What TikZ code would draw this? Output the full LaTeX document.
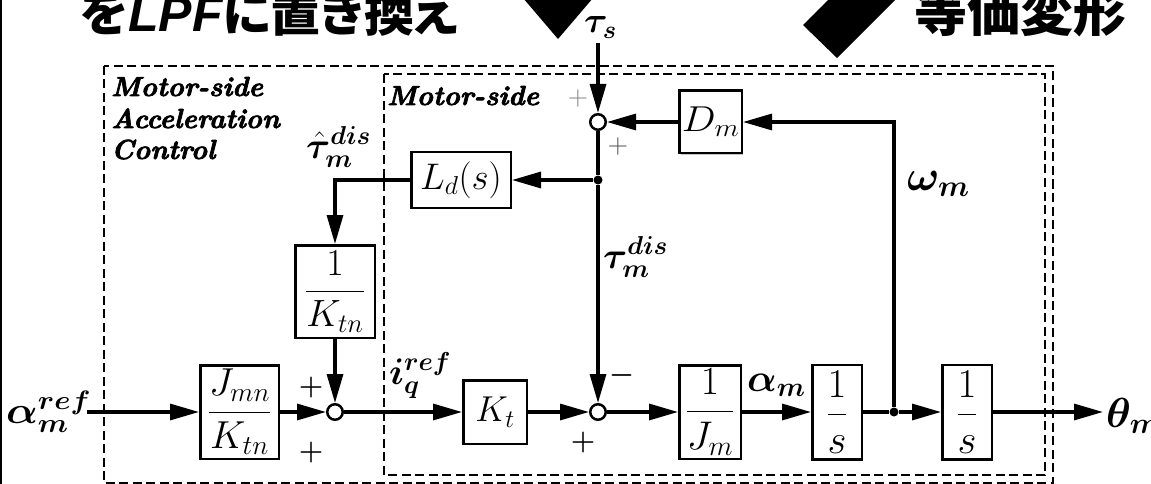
\RequirePackage{fix-cm}
\documentclass[tikz,border=0pt]{standalone}
\usepackage{amsmath,bm}
\usepackage{graphicx}
\usepackage{fontspec}
\newfontfamily\jpfont[RawFeature=+palt]{Noto Sans CJK JP}
\newfontfamily\lsans{Liberation Sans}
\newfontfamily\grpfont[BoldItalicFeatures={FakeBold=2.6}]{Latin Modern Roman}
\usetikzlibrary{arrows.meta,shadows}
\newcommand\setfs[1]{\fontsize{#1}{#1}\selectfont}
\newcommand\hsc[2]{\scalebox{#1}[1]{#2}}
\tikzset{
  blk/.style={draw, line width=2.5pt, inner sep=0pt, fill=white,
    drop shadow={shadow xshift=1.3pt, shadow yshift=-1.3pt, opacity=0.45}},
  sumc/.style={draw, circle, line width=2.5pt, minimum size=15.5pt, inner sep=0pt, fill=white},
  dotc/.style={circle, fill=black, minimum size=9pt, inner sep=0pt},
  ln/.style={line width=3.2pt},
  arr/.style={line width=3.2pt, -{Triangle[length=29pt,width=16pt]}},
  dbox/.style={line width=2pt, dash pattern=on 9pt off 4.5pt},
  lbl/.style={inner sep=0pt, anchor=base west},
  sgn/.style={inner sep=0pt},
  grp/.style={inner sep=0pt, anchor=base west, font=\grpfont\setfs{27.5}\bfseries\itshape},
}
\begin{document}
\begin{tikzpicture}[x=1pt,y=-1pt]
\useasboundingbox (0,0) rectangle (1151,484);
\clip (0,0) rectangle (1151,484);
% slide decorations
\draw[line width=2pt] (1,0) -- (1,484);
\fill (523,-2) -- (593,-2) -- (558,39) -- cycle;
\fill (803,25) -- (837,58) -- (903,-8) -- (836,-8) -- cycle;
\node[lbl] (jt1) at (80,32) {\jpfont\bfseries\setfs{50}を{\lsans\bfseries\itshape\setfs{50}LPF}に置き換え};
\node[lbl] (jt2) at (914,32) {\jpfont\bfseries\setfs{53}等価変形};
% groups
\draw[dbox] (104,66) rectangle (1053,483);
\draw[dbox] (384,74) rectangle (1045,475);
\node[grp] (g1) at (111,96) {Motor-side};
\node[grp] (g2) at (111,128) {Acceleration};
\node[grp] (g3) at (111,159) {Control};
\node[grp] (g4) at (387,105) {Motor-side};
% blocks
\node[blk, minimum width=62.5pt, minimum height=62.5pt] (Dm) at (710.5,122) {\hsc{1.12}{\setfs{36}$D_m$}};
\node[blk, minimum width=99.5pt, minimum height=55.5pt] (Ld) at (461,180) {\setfs{37}$L_d(s)$};
\node[blk, minimum width=79.5pt, minimum height=92.5pt] (Ktn) at (335,291.5) {\setfs{38}$\dfrac{1}{K_{tn}}$};
\node[blk, minimum width=78.5pt, minimum height=93.5pt] (JK) at (239.5,412) {\setfs{39}$\dfrac{J_{mn}}{K_{tn}}$};
\node[blk, minimum width=63.5pt, minimum height=63.5pt] (Kt) at (495,412) {\setfs{36}$K_t$};
\node[blk, minimum width=61.5pt, minimum height=93.5pt] (Jm) at (710,412) {\setfs{40}$\dfrac{1}{J_m}$};
\node[blk, minimum width=49.5pt, minimum height=94.5pt] (S1) at (837,412) {\setfs{41}$\dfrac{1}{s}$};
\node[blk, minimum width=49.5pt, minimum height=94.5pt] (S2) at (967,412) {\setfs{41}$\dfrac{1}{s}$};
% junctions
\node[sumc] (sA) at (335,412) {};
\node[sumc] (sB) at (598,412) {};
\node[sumc] (sC) at (598,122) {};
\node[dotc] (d1) at (598,180) {};
\node[dotc] (d2) at (894,412) {};
\coordinate (inA) at (87,412);
\coordinate (outA) at (1103,412);
\coordinate (tsin) at (598,43);
% connectors
\draw[arr] (inA) -- (JK);
\draw[arr] (JK) -- (sA);
\draw[arr] (Ktn) -- (sA);
\draw[arr] (sA) -- (Kt);
\draw[arr] (Kt) -- (sB);
\draw[arr] (sB) -- (Jm);
\draw[arr] (Jm) -- (S1);
\draw[ln] (S1) -- (d2);
\draw[arr] (d2) -- (S2);
\draw[arr] (S2) -- (outA);
\draw[arr] (d2) |- (Dm);
\draw[arr] (Dm) -- (sC);
\draw[arr] (tsin) -- (sC);
\draw[ln] (sC) -- (d1);
\draw[arr] (d1) -- (sB);
\draw[arr] (d1) -- (Ld);
\draw[arr] (Ld) -| (Ktn);
% labels
\node[lbl] (la) at (6,423) {\hsc{1.1}{\setfs{38}$\bm{\alpha_m^{ref}}$}};
\node[lbl] (li) at (389,384) {\setfs{37}$\bm{i_q^{ref}}$};
\node[lbl] (lt) at (603,268) {\setfs{37}$\bm{\tau_m^{dis}}$};
\node[lbl] (lth) at (306,158) {\setfs{37}$\bm{\hat{\tau}_m^{dis}}$};
\node[lbl] (lw) at (907,190) {\setfs{43}$\bm{\omega_m}$};
\node[lbl] (lam) at (747,391) {\setfs{39}$\bm{\alpha_m}$};
\node[lbl] (lth2) at (1106,427) {\setfs{42}$\bm{\theta_m}$};
\node[lbl] (lts) at (584,33) {\setfs{36}$\bm{\tau_s}$};
% signs
\node[sgn, text=black!50] (pc1) at (578,99) {\setfs{28}$+$};
\node[sgn, text=black!70] (pc2) at (618,147) {\setfs{28}$+$};
\node[sgn] (pa1) at (311,387) {\setfs{28}$\bm{+}$};
\node[sgn] (pa2) at (311,452) {\setfs{28}$\bm{+}$};
\node[sgn] (pb) at (583,442) {\setfs{28}$\bm{+}$};
\node[sgn] (mb) at (622,375) {\setfs{28}$\bm{-}$};
\end{tikzpicture}
\end{document}
